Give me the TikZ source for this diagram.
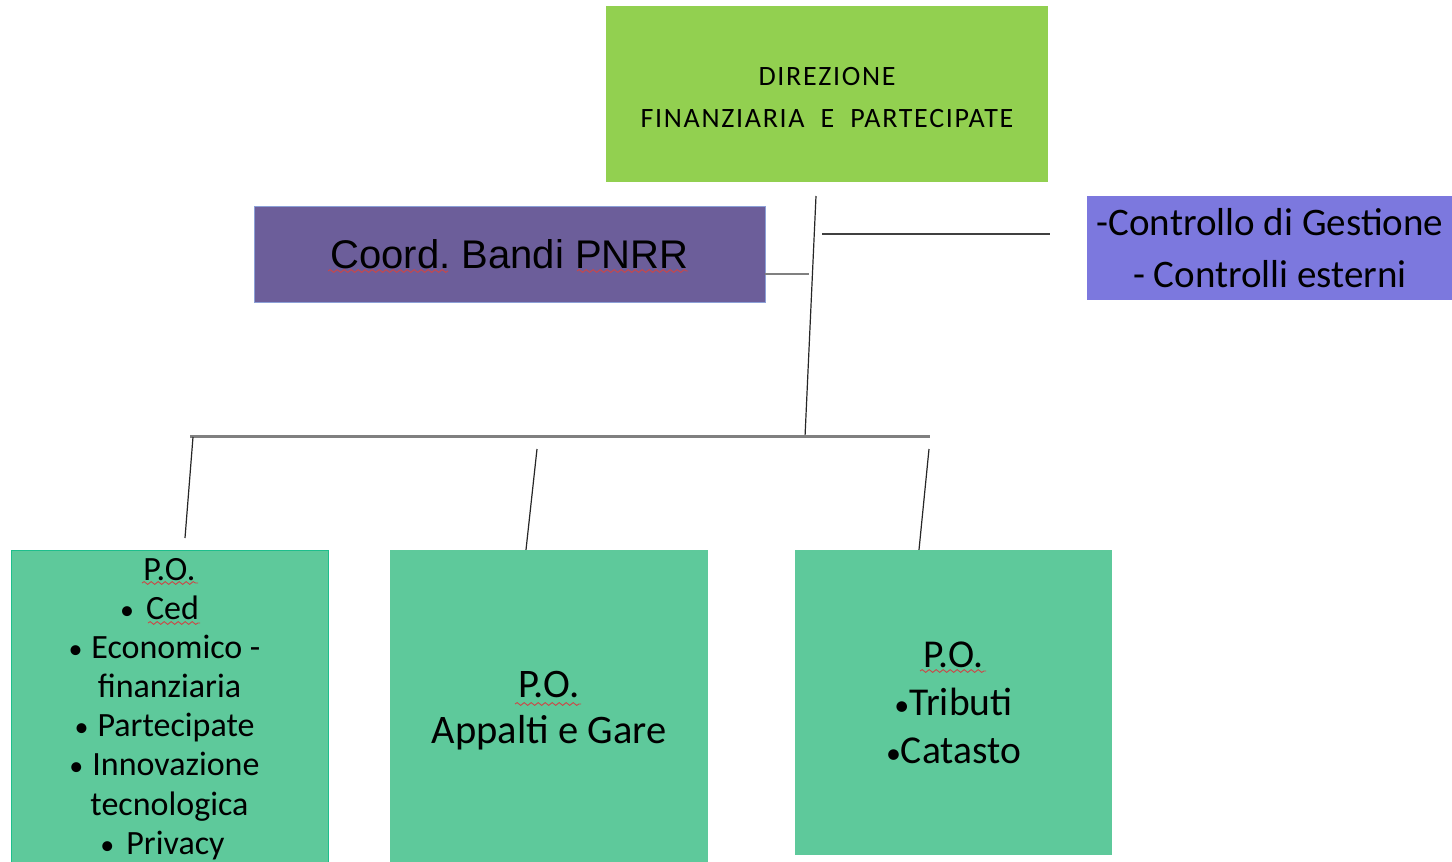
\documentclass[tikz,border=0pt]{standalone}
\usepackage{fontspec}
\setmainfont{Carlito}
\newfontfamily\arialfont{Liberation Sans}
\newfontfamily\dirfont[LetterSpace=6]{Carlito}
\usetikzlibrary{decorations.pathmorphing}
\definecolor{topgreen}{RGB}{146,208,80}
\definecolor{pnrrpurple}{RGB}{108,94,154}
\definecolor{pnrredge}{RGB}{140,160,215}
\definecolor{ctrlpurple}{RGB}{124,120,222}
\definecolor{pogreen}{RGB}{94,201,155}
\definecolor{poedge}{RGB}{30,190,140}
\definecolor{conngray}{RGB}{128,128,128}
\definecolor{spellred}{RGB}{205,70,70}
\newcommand{\sbul}{{\fontsize{28}{28}\selectfont\textbullet}}
\newcommand{\tailpad}[1]{\hbox to #1{}}
\tikzset{
  box/.style={rectangle, inner sep=0pt, align=center, text=black},
  grayline/.style={draw=conngray, line width=2pt},
  darkline/.style={draw=black!85, line width=1.2pt},
  spell/.style={draw=spellred, line width=0.9pt, decorate,
    decoration={snake, segment length=7pt, amplitude=1.4pt}}
}
\frenchspacing
\begin{document}
\frenchspacing
\begin{tikzpicture}[x=1pt,y=-1pt]
\clip (0,0) rectangle (1452,862);
\fill[white] (0,0) rectangle (1452,862);

% boxes
\node[box, fill=topgreen, minimum width=442pt, minimum height=176pt] (dir) at (827,94) {};
\node[box, font=\dirfont\fontsize{28}{42}\selectfont] (dirtext) at (827,98)
  {DIREZIONE\\FINANZIARIA\ \ E\ \ PARTECIPATE};
\node[box, fill=pnrrpurple, draw=pnrredge, line width=0.8pt,
  minimum width=511pt, minimum height=96pt,
  font=\arialfont\fontsize{40}{48}\selectfont] (pnrr) at (509.5,254)
  {Coord. Bandi PNRR};
\node[box, fill=ctrlpurple, minimum width=366pt, minimum height=104pt,
  font=\fontsize{39}{52}\selectfont] (ctrl) at (1270,248)
  {-Controllo di Gestione\\- Controlli esterni};
\node[box, fill=pogreen, draw=poedge, line width=1pt,
  minimum width=317pt, minimum height=320pt] (po1) at (169.5,710) {};
\node[box, font=\fontsize{34}{39.1}\selectfont] (po1text) at (169.5,709)
  {P.O.\\\sbul\hspace{12pt}Ced\tailpad{20pt}\\\sbul\hspace{9pt}Economico -\tailpad{10pt}\\finanziaria\\\sbul\hspace{9pt}Partecipate\tailpad{10pt}\\\sbul\hspace{9pt}Innovazione\tailpad{10pt}\\tecnologica\\\sbul\hspace{12pt}Privacy\tailpad{14pt}};
\node[box, fill=pogreen, minimum width=318pt, minimum height=322pt,
  font=\fontsize{40.5}{46}\selectfont] (po2) at (549,711)
  {P.O.\\Appalti e Gare};
\node[box, fill=pogreen, minimum width=317pt, minimum height=305pt,
  font=\fontsize{39.5}{48}\selectfont] (po3) at (953.5,702.5)
  {P.O.\\{\fontsize{30}{30}\selectfont\textbullet}Tributi\\{\fontsize{30}{30}\selectfont\textbullet}Catasto};

% connector points
\coordinate (vtop) at (816,196);
\coordinate (vbot) at (805,437);
\coordinate (jp) at (809,274);
\coordinate (ca) at (822,234);
\coordinate (cb) at (1050,234);
\coordinate (busl) at (190,436);
\coordinate (busr) at (930,436);
\coordinate (d1a) at (193,437);
\coordinate (d1b) at (185,538);
\coordinate (d2a) at (537,449);
\coordinate (d3a) at (929,449);

% connectors
\draw[darkline] (vtop) -- (vbot);
\draw[grayline] (pnrr.east |- jp) -- (jp);
\draw[darkline, draw=black!75] (ca) -- (cb);
\draw[grayline, line width=3pt] (busl) -- (busr);
\draw[darkline] (d1a) -- (d1b);
\draw[darkline] (d2a) -- (po2.north -| 526,0);
\draw[darkline] (d3a) -- (po3.north -| 919,0);

% spell-check underlines
\draw[spell] (328,271) -- (448,271);
\draw[spell] (577,271) -- (688,271);
\draw[spell] (142,583) -- (198,583);
\draw[spell] (148,623) -- (200,623);
\draw[spell] (515,704) -- (581,704);
\draw[spell] (920,671) -- (986,671);
\end{tikzpicture}
\end{document}
